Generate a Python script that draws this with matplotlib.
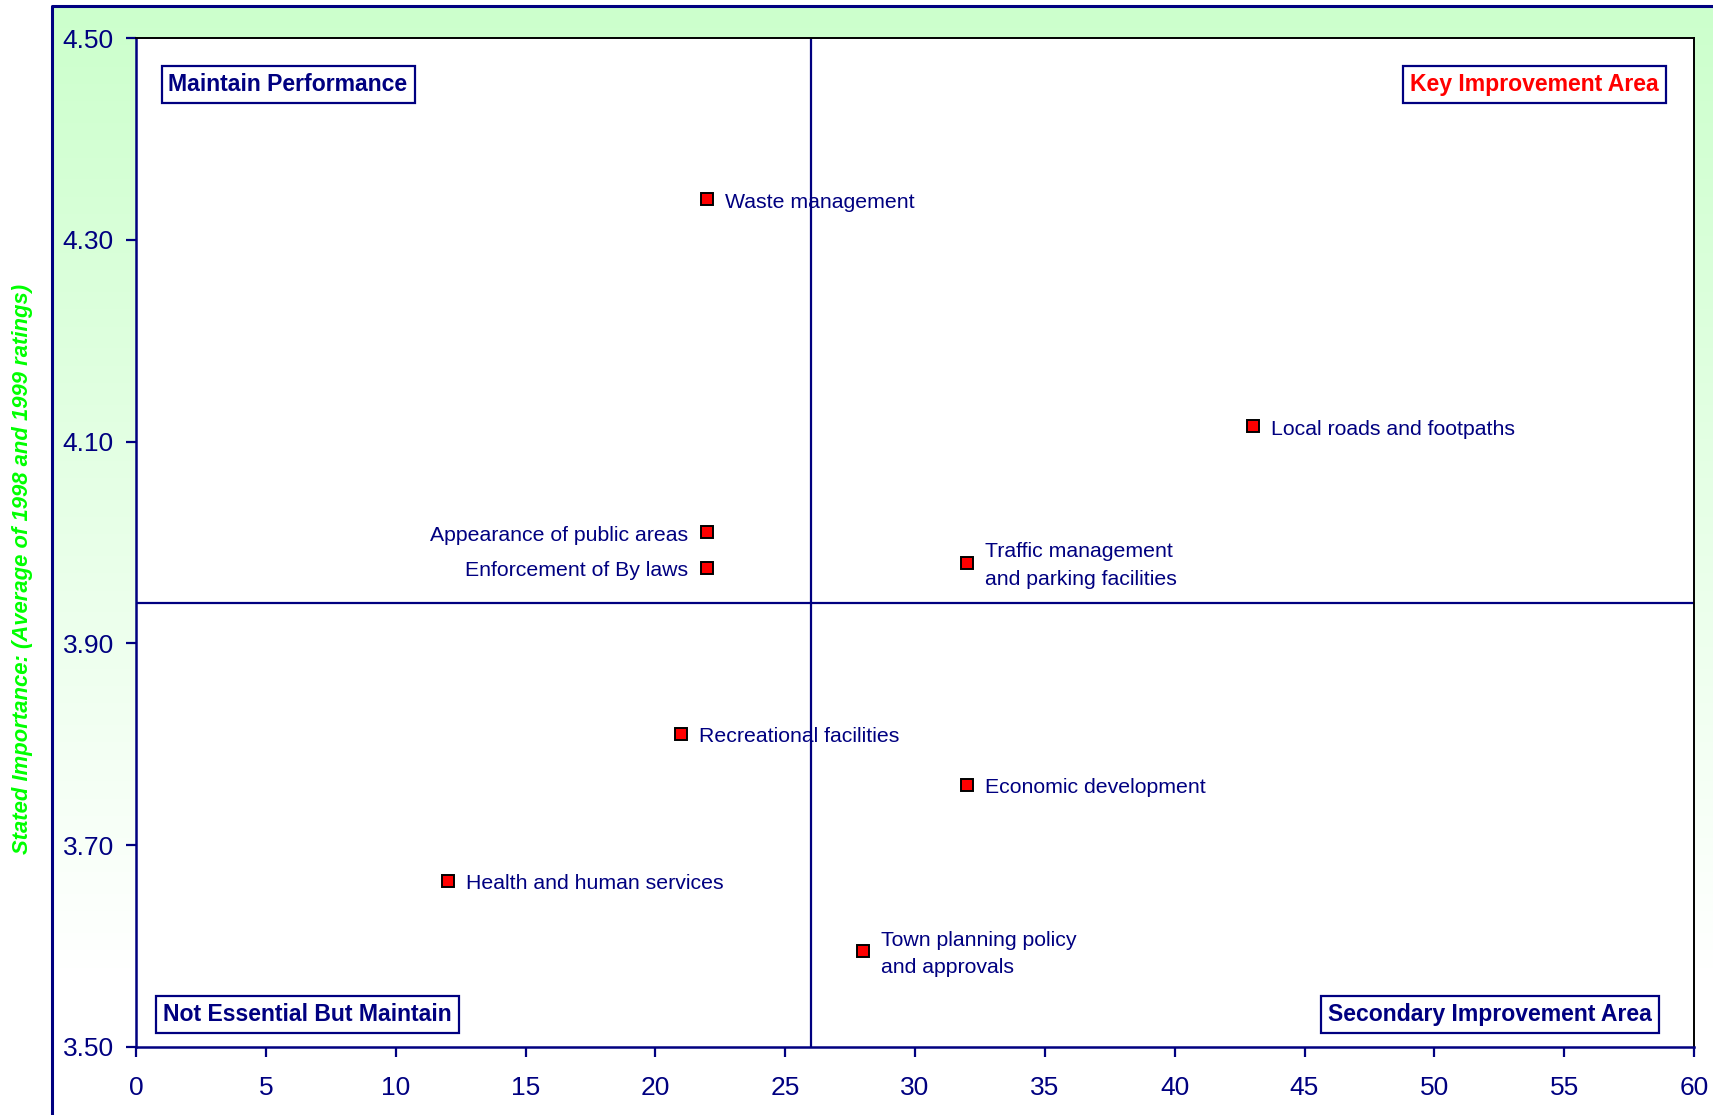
import matplotlib
matplotlib.use("Agg")
import matplotlib.pyplot as plt
import numpy as np

plt.rcParams['font.family'] = ['Liberation Sans', 'DejaVu Sans']

# performance (x) vs stated importance (y) for each council service
services = ["Waste management", "Local roads and footpaths", "Appearance of public areas",
            "Enforcement of By laws", "Traffic management\nand parking facilities",
            "Recreational facilities", "Economic development",
            "Health and human services", "Town planning policy\nand approvals"]
performance = [22, 43, 22, 22, 32, 21, 32, 12, 28]
importance = [4.34, 4.115, 4.01, 3.975, 3.98, 3.81, 3.76, 3.665, 3.595]
label_side = ["right", "right", "left", "left", "right", "right", "right", "right", "right"]

x_split = 26
y_split = 3.94

x_ticks = list(range(0, 61, 5))
y_ticks = [3.50, 3.70, 3.90, 4.10, 4.30, 4.50]

navy = "#000080"

fig = plt.figure(figsize=(17.13, 11.15), dpi=100)

# green-to-white background panel behind the chart
bg = fig.add_axes([0, 0, 1, 1], zorder=0)
bg.set_xlim(0, 1713)
bg.set_ylim(1115, 0)
bg.axis("off")
grad = np.clip(np.linspace(0, 1.15, 256), 0, 1).reshape(-1, 1)
green = np.array([0xCC, 0xFF, 0xCC]) / 255.0
img = green[None, None, :] * (1 - grad[:, :, None]) + np.ones(3)[None, None, :] * grad[:, :, None]
bg.imshow(img, extent=[52, 1713, 1115, 6], aspect="auto")
bg.plot([52, 52, 1713], [1115, 6, 6], color=navy, lw=2.2, solid_capstyle="butt")

ax = fig.add_axes([136 / 1713, 1 - 1047 / 1115, (1694 - 136) / 1713, (1047 - 38) / 1115], zorder=1)
ax.set_facecolor("white")
ax.set_xlim(0, 60)
ax.set_ylim(3.5, 4.5)

ax.axvline(x_split, color=navy, lw=1.6, zorder=2)
ax.axhline(y_split, color=navy, lw=1.6, zorder=2)

ax.plot(performance, importance, linestyle="none", marker="s", markersize=8,
        markerfacecolor="red", markeredgecolor="black", markeredgewidth=1.4, zorder=3)

for name, xv, yv, side in zip(services, performance, importance, label_side):
    dx = 13 if side == "right" else -14
    ha = "left" if side == "right" else "right"
    ax.annotate(name, (xv, yv), xytext=(dx, -2), textcoords="offset points",
                ha=ha, va="center", fontsize=15.3, color=navy, linespacing=1.55, zorder=4)

box = dict(boxstyle="square,pad=0.3", facecolor="white", edgecolor=navy, linewidth=1.6)
quad_font = dict(fontsize=16.6, fontweight="bold", ha="center", va="center", zorder=5)
ax.text(0.0976, 0.954, "Maintain Performance", transform=ax.transAxes,
        color=navy, bbox=box, **quad_font)
ax.text(0.8976, 0.954, "Key Improvement Area", transform=ax.transAxes,
        color="red", bbox=box, **quad_font)
ax.text(0.110, 0.032, "Not Essential But Maintain", transform=ax.transAxes,
        color=navy, bbox=box, **quad_font)
ax.text(0.869, 0.032, "Secondary Improvement Area", transform=ax.transAxes,
        color=navy, bbox=box, **quad_font)

ax.set_xticks(x_ticks)
ax.set_xticklabels([str(t) for t in x_ticks])
ax.set_yticks(y_ticks)
ax.set_yticklabels(["%.2f" % t for t in y_ticks])
ax.tick_params(axis="both", direction="out", length=7, width=1.6, colors=navy, labelsize=19)
ax.tick_params(axis="x", pad=14)
ax.tick_params(axis="y", pad=9)

ax.spines["left"].set_color(navy)
ax.spines["bottom"].set_color(navy)
ax.spines["left"].set_linewidth(1.8)
ax.spines["bottom"].set_linewidth(1.8)
ax.spines["top"].set_color("black")
ax.spines["right"].set_color("black")
ax.spines["top"].set_linewidth(1.4)
ax.spines["right"].set_linewidth(1.4)

fig.text(23 / 1713, 1 - 569 / 1115, "Stated Importance: (Average of 1998 and 1999 ratings)",
         rotation=90, ha="center", va="center", fontsize=15.8, fontweight="bold",
         fontstyle="italic", color="#00FF00")

fig.savefig("out.png", dpi=100)
